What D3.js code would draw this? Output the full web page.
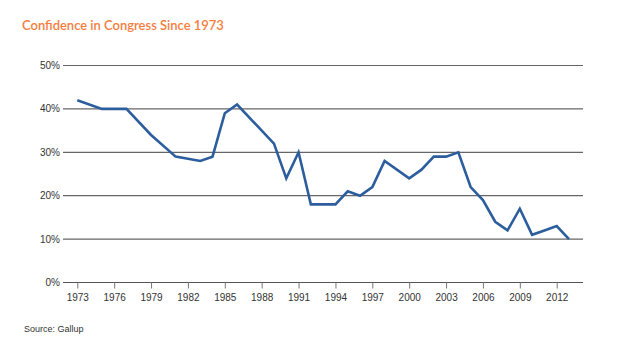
<!DOCTYPE html>
<html><head><meta charset="utf-8">
<script src="https://cdn.jsdelivr.net/npm/d3@7"></script>
<style>
html,body{margin:0;padding:0;background:#fff;}
svg{display:block;}
</style></head>
<body>
<svg id="chart" width="623" height="355"></svg>
<script>
const years = [1973,1975,1977,1979,1981,1983,1984,1985,1986,1989,1990,1991,1992,1993,1994,1995,1996,1997,1998,2000,2001,2002,2003,2004,2005,2006,2007,2008,2009,2010,2011,2012,2013];
const confidence = [42,40,40,34,29,28,29,39,41,32,24,30,18,18,18,21,20,22,28,24,26,29,29,30,22,19,14,12,17,11,12,13,10];
const xTickYears = [1973,1976,1979,1982,1985,1988,1991,1994,1997,2000,2003,2006,2009,2012];
const yTicks = [0,10,20,30,40,50];
const title = "Confidence in Congress Since 1973";
const source = "Source: Gallup";

const svg = d3.select("#chart");
const x = d3.scaleLinear().domain([1973, 2012]).range([77.3, 556.7]);
const y = d3.scaleLinear().domain([0, 50]).range([282.5, 65.5]);

// title
const t = svg.append("text").attr("x", 22).attr("y", 30)
  .attr("fill", "#f47d3c").attr("font-family", "Lato, 'Open Sans', sans-serif")
  .attr("font-weight", 600).attr("font-size", 15).text(title);
const tw = t.node().getComputedTextLength();
t.attr("font-size", 15 * 202 / tw);

// gridlines
svg.append("g").selectAll("line").data(yTicks).join("line")
  .attr("x1", 63).attr("x2", 583)
  .attr("y1", d => y(d)).attr("y2", d => y(d))
  .attr("stroke", d => d === 0 ? "#555" : "#666").attr("stroke-width", 1.2);

// y labels
svg.append("g").selectAll("text").data(yTicks).join("text")
  .attr("x", 60).attr("y", d => y(d)).attr("dy", "0.35em")
  .attr("text-anchor", "end").attr("fill", "#333")
  .attr("font-family", "'Liberation Sans', Arial, sans-serif").attr("font-size", 10)
  .text(d => d + "%");

// x axis
const xAxis = d3.axisBottom(x).tickValues(xTickYears).tickFormat(d3.format("d")).tickSize(6).tickPadding(5);
const gx = svg.append("g").attr("transform", `translate(0,${y(0)})`).call(xAxis);
gx.select(".domain").remove();
gx.selectAll(".tick line").attr("stroke", "#777");
gx.selectAll(".tick text").attr("fill", "#333")
  .attr("font-family", "'Liberation Sans', Arial, sans-serif").attr("font-size", 10);

// line
const line = d3.line().x((d, i) => x(years[i])).y(d => y(d));
svg.append("path").datum(confidence)
  .attr("d", line).attr("fill", "none")
  .attr("stroke", "#2c5e9e").attr("stroke-width", 2.6)
  .attr("stroke-linejoin", "miter").attr("stroke-linecap", "butt");

// source
svg.append("text").attr("x", 24).attr("y", 332).attr("fill", "#333")
  .attr("font-family", "'Liberation Sans', Arial, sans-serif").attr("font-size", 9)
  .text(source);
</script>
</body></html>
